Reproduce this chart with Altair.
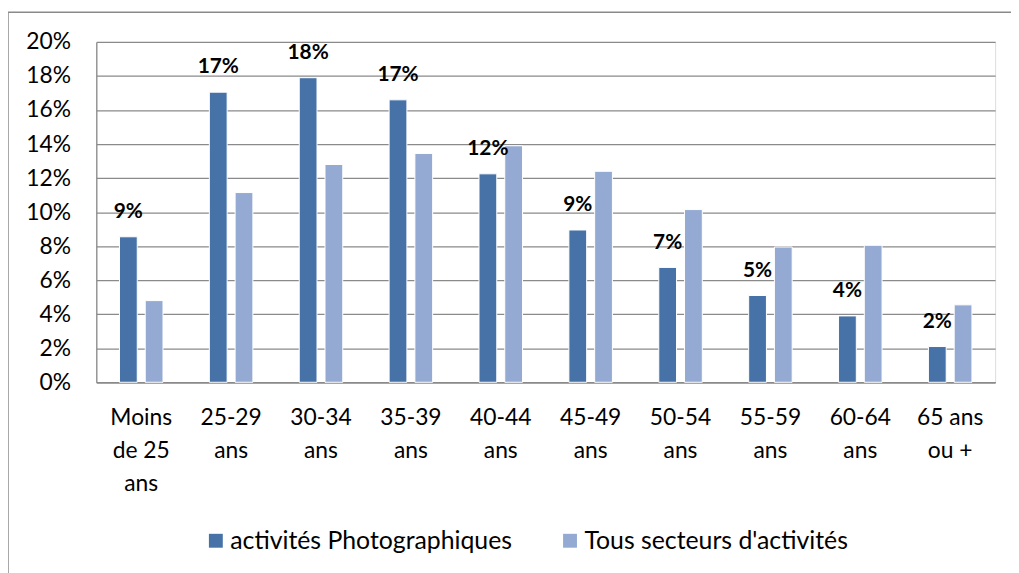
import altair as alt
import pandas as pd

categories = ["Moins|de 25|ans", "25-29|ans", "30-34|ans", "35-39|ans", "40-44|ans",
              "45-49|ans", "50-54|ans", "55-59|ans", "60-64|ans", "65 ans|ou +"]
series = ["activités Photographiques", "Tous secteurs d'activités"]
photo = [8.55, 17.05, 17.9, 16.6, 12.25, 8.95, 6.75, 5.1, 3.9, 2.1]
tous = [4.8, 11.15, 12.8, 13.45, 13.9, 12.4, 10.15, 7.95, 8.05, 4.55]
photo_labels = ["9%", "17%", "18%", "17%", "12%", "9%", "7%", "5%", "4%", "2%"]
colors = ["#4672A8", "#94AAD3"]
y_ticks = [0, 2, 4, 6, 8, 10, 12, 14, 16, 18, 20]

rows = []
for i, c in enumerate(categories):
    rows.append({"cat": c, "series": series[0], "value": photo[i], "label": photo_labels[i]})
    rows.append({"cat": c, "series": series[1], "value": tous[i], "label": ""})
df = pd.DataFrame(rows)

FONT = "Lato"

x_enc = alt.X("cat:N", sort=categories, title=None,
              scale=alt.Scale(paddingInner=0, paddingOuter=0),
              axis=alt.Axis(labelExpr="split(datum.label, '|')", labelAngle=0,
                            labelFontSize=23, labelLineHeight=33, labelPadding=25,
                            labelBaseline="top", ticks=False, domainColor="#8a8a8a",
                            domainWidth=1.3, labelColor="#000000", labelFont=FONT,
                            grid=False, labelOverlap=False, labelLimit=0))
xo_enc = alt.XOffset("series:N", sort=series,
                     scale=alt.Scale(paddingInner=0.31, paddingOuter=0.9))
y_enc = alt.Y("value:Q", title=None,
              scale=alt.Scale(domain=[0, 20], nice=False, zero=True),
              axis=alt.Axis(values=y_ticks, tickCount=len(y_ticks) + 5,
                            labelExpr="datum.value + '%'",
                            labelFontSize=23, labelPadding=26, ticks=False,
                            domainColor="#8a8a8a", domainWidth=1.3,
                            gridColor="#8a8a8a", gridWidth=1.3,
                            labelColor="#000000", labelFont=FONT,
                            labelOverlap=False, labelLimit=0))

base = alt.Chart(df)

bars = base.mark_bar(stroke="white", strokeWidth=1).encode(
    x=x_enc,
    xOffset=xo_enc,
    y=y_enc,
    color=alt.Color("series:N", sort=series,
                    scale=alt.Scale(domain=series, range=colors),
                    legend=alt.Legend(title=None, orient="none", direction="horizontal",
                                      legendX=108, legendY=490, symbolType="square",
                                      symbolSize=196, symbolStrokeWidth=0, symbolOpacity=1,
                                      labelFontSize=25, labelFont=FONT, labelColor="#000000",
                                      labelOffset=2, columnPadding=45, padding=0,
                                      labelLimit=0)),
)

texts = base.mark_text(fontWeight="bold", fontSize=21, font=FONT, color="#000000",
                       baseline="alphabetic", dy=-19).encode(
    x=x_enc,
    xOffset=xo_enc,
    y=y_enc,
    text="label:N",
)

frame_df = pd.DataFrame({"k": [0]})
frame_v = alt.Chart(frame_df).mark_rule(color="#8a8a8a", strokeWidth=1.5).encode(
    x=alt.value(-89), y=alt.value(-30), y2=alt.value(540))
frame_h = alt.Chart(frame_df).mark_rule(color="#8a8a8a", strokeWidth=1.5).encode(
    x=alt.value(-89), x2=alt.value(925), y=alt.value(-30))

chart = alt.layer(bars, texts, frame_v, frame_h).properties(
    width=906, height=343,
    autosize="none",
    padding={"left": 89, "top": 32, "right": 16, "bottom": 190},
).configure_view(stroke=None).configure(background="white")

chart.save("out.html", embed_options={"renderer": "svg", "actions": False})
